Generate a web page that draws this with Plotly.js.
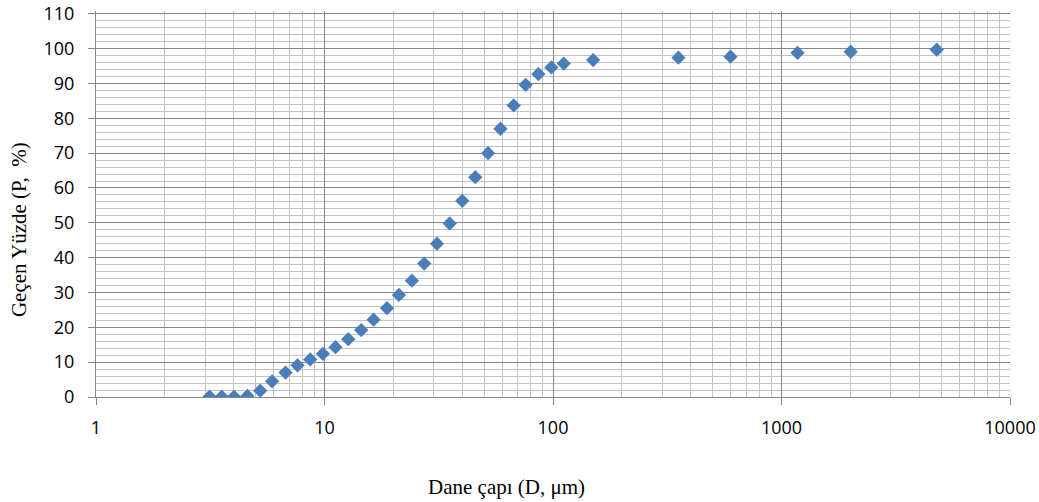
<!DOCTYPE html>
<html>
<head>
<meta charset="utf-8">
<script src="https://cdn.plot.ly/plotly-3.0.1.min.js"></script>
<style>html,body{margin:0;padding:0;background:#fff;}#chart{width:1039px;height:502px;}</style>
</head>
<body>
<div id="chart"></div>
<script>
// Particle size distribution data
const diameters = [3.14, 3.55, 4.02, 4.60, 5.23, 5.90, 6.75, 7.62, 8.66, 9.84, 11.17, 12.70, 14.48, 16.40, 18.77, 21.17, 24.13, 27.33, 31.06, 35.30, 40.1, 45.7, 52.0, 58.9, 67.3, 75.9, 86.3, 98.4, 111.4, 149.9, 354, 598, 1175, 2008, 4780];
const passing = [0.1, 0.1, 0.1, 0.3, 1.8, 4.5, 7.0, 9.1, 10.8, 12.4, 14.3, 16.6, 19.2, 22.2, 25.5, 29.3, 33.4, 38.3, 44.0, 49.8, 56.3, 63.1, 70.0, 77.0, 83.7, 89.6, 92.7, 94.6, 95.7, 96.7, 97.4, 97.7, 98.8, 99.1, 99.7];
const xTickVals = [1, 10, 100, 1000, 10000];
const xTickText = ['1', '10', '100', '1000', '10000'];
const yTickVals = [0, 10, 20, 30, 40, 50, 60, 70, 80, 90, 100, 110];
const yMinorVals = [2, 4, 6, 8, 12, 14, 16, 18, 22, 24, 26, 28, 32, 34, 36, 38, 42, 44, 46, 48, 52, 54, 56, 58, 62, 64, 66, 68, 72, 74, 76, 78, 82, 84, 86, 88, 92, 94, 96, 98, 102, 104, 106, 108];
const xTitle = 'Dane çapı (D, μm)';
const yTitle = 'Geçen Yüzde (P,\u00a0\u00a0%)';

const majorGrid = '#878787';
const minorGrid = '#c3c3c3';
const serif = 'Liberation Serif, Times New Roman, serif';

const trace = {
  x: diameters,
  y: passing,
  type: 'scatter',
  mode: 'markers',
  marker: { symbol: 'diamond', size: 11, color: '#4a7ebb', line: { width: 0 } },
  hoverinfo: 'x+y'
};

const layout = {
  width: 1039,
  height: 502,
  margin: { l: 96, r: 29, t: 11, b: 105 },
  paper_bgcolor: '#ffffff',
  plot_bgcolor: '#ffffff',
  showlegend: false,
  font: { family: 'Open Sans, sans-serif', size: 18, color: '#000000' },
  xaxis: {
    type: 'log',
    range: [0, 4],
    tickvals: xTickVals,
    ticktext: xTickText,
    ticks: 'outside',
    ticklen: 7,
    tickcolor: majorGrid,
    ticklabelstandoff: 7,
    ticklabeloverflow: 'allow',
    showline: true,
    linecolor: majorGrid,
    linewidth: 1,
    showgrid: true,
    gridcolor: majorGrid,
    gridwidth: 1,
    zeroline: false,
    minor: { dtick: 'D1', showgrid: true, gridcolor: minorGrid, gridwidth: 1, ticks: '' },
    automargin: false
  },
  yaxis: {
    range: [0, 110.8],
    tickvals: yTickVals,
    ticks: 'outside',
    ticklen: 7,
    tickcolor: majorGrid,
    ticklabelstandoff: 10,
    ticklabeloverflow: 'allow',
    showline: true,
    linecolor: majorGrid,
    linewidth: 1,
    showgrid: true,
    gridcolor: majorGrid,
    gridwidth: 1,
    zeroline: false,
    minor: { tickvals: yMinorVals, showgrid: true, gridcolor: minorGrid, gridwidth: 1, ticks: '' },
    automargin: false
  },
  annotations: [
    {
      text: xTitle, xref: 'paper', yref: 'paper', x: 0.4486, y: -0.2332,
      xanchor: 'center', yanchor: 'middle', showarrow: false,
      font: { family: serif, size: 21, color: '#000' }
    },
    {
      text: yTitle, xref: 'paper', yref: 'paper', x: -0.0842, y: 0.4326,
      xanchor: 'center', yanchor: 'middle', showarrow: false, textangle: -90,
      font: { family: serif, size: 21, color: '#000' }
    }
  ]
};

Plotly.newPlot('chart', [trace], layout, { displayModeBar: false, staticPlot: true });
</script>
</body>
</html>
